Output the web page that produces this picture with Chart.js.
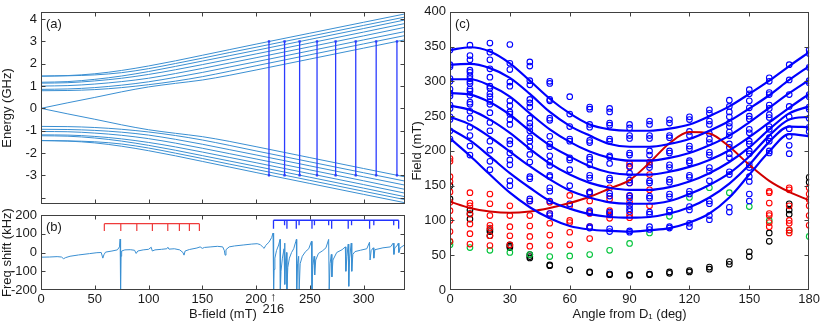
<!DOCTYPE html>
<html>
<head>
<meta charset="utf-8">
<script src="https://cdn.jsdelivr.net/npm/chart.js@4.4.0/dist/chart.umd.min.js"></script>
<style>
  body { margin: 0; background: #fff; }
  #wrap { position: relative; width: 822px; height: 322px; overflow: hidden; }
  canvas { position: absolute; }
</style>
</head>
<body>
<div id="wrap">
  <canvas id="chartA" style="left:0;top:0" width="410" height="216"></canvas>
  <canvas id="chartB" style="left:0;top:195px" width="410" height="127"></canvas>
  <canvas id="chartC" style="left:410px;top:0" width="412" height="322"></canvas>
</div>
<script>
// ---- panel (a): energy levels vs field ----
const energyField = [0, 25, 50, 75, 100, 125, 150, 175, 200, 250, 300, 338];
const upperLevels = [
  [1.45, 1.47, 1.55, 1.70, 1.90, 2.13, 2.38, 2.63, 2.88, 3.37, 3.86, 4.23],
  [1.44, 1.46, 1.50, 1.60, 1.78, 2.01, 2.25, 2.50, 2.74, 3.23, 3.72, 4.09],
  [1.17, 1.20, 1.30, 1.45, 1.65, 1.88, 2.12, 2.36, 2.60, 3.09, 3.58, 3.96],
  [1.13, 1.15, 1.23, 1.35, 1.52, 1.73, 1.96, 2.20, 2.44, 2.93, 3.42, 3.80],
  [1.00, 1.02, 1.09, 1.20, 1.35, 1.56, 1.79, 2.03, 2.27, 2.76, 3.25, 3.63],
  [0.85, 0.87, 0.93, 1.04, 1.19, 1.39, 1.61, 1.85, 2.09, 2.58, 3.07, 3.44],
  [0.79, 0.80, 0.84, 0.93, 1.06, 1.22, 1.42, 1.66, 1.91, 2.40, 2.89, 3.26],
  [0.00, 0.25, 0.49, 0.74, 0.96, 1.12, 1.27, 1.48, 1.72, 2.21, 2.70, 3.07]
];
const lowerLevels = [
  [-1.45, -1.47, -1.55, -1.70, -1.90, -2.13, -2.38, -2.63, -2.88, -3.37, -3.86, -4.23],
  [-1.44, -1.46, -1.50, -1.60, -1.78, -2.01, -2.25, -2.50, -2.74, -3.23, -3.72, -4.09],
  [-1.23, -1.25, -1.33, -1.47, -1.66, -1.88, -2.12, -2.36, -2.60, -3.09, -3.58, -3.96],
  [-1.19, -1.20, -1.26, -1.37, -1.53, -1.73, -1.96, -2.20, -2.44, -2.93, -3.42, -3.80],
  [-1.04, -1.05, -1.11, -1.21, -1.36, -1.56, -1.79, -2.03, -2.27, -2.76, -3.25, -3.63],
  [-0.94, -0.95, -0.99, -1.07, -1.20, -1.39, -1.61, -1.85, -2.09, -2.58, -3.07, -3.44],
  [-0.81, -0.82, -0.86, -0.94, -1.06, -1.22, -1.42, -1.66, -1.91, -2.40, -2.89, -3.26],
  [0.00, -0.25, -0.49, -0.74, -0.96, -1.12, -1.27, -1.48, -1.72, -2.21, -2.70, -3.07]
];
const transitionFields = [212, 226.5, 240.5, 256.7, 274, 292.7, 311.7, 331];
const transitionEnergy = [3, -3];

// ---- panel (b): resonator frequency shift ----
const shiftField = [
  0, 8, 15, 19, 21, 23, 27, 35, 45, 52, 56, 57.5, 58.5, 60, 66, 71, 73, 73.6, 74, 74.4,
  75, 78, 83, 87, 88.5, 90, 95, 100, 102.5, 103.5, 106, 112, 117, 118, 119, 124, 129, 132, 133, 134,
  138, 145, 148, 150, 152, 158, 164, 169, 170.5, 171.2, 172, 175, 180, 188, 196, 201, 204, 206, 207.5, 209,
  212, 214.5, 215.8, 216.3, 216.7, 217.5, 219, 221, 222.3, 222.6, 223.2, 224.5, 226, 226.6, 226.8, 227.5, 228.3, 228.7, 229.5, 231,
  233, 235, 237, 237.5, 237.8, 238.6, 239.6, 240.1, 241, 243, 246, 249, 251.5, 252, 252.8, 254, 254.5, 255.5, 258, 262,
  265, 267.5, 268, 268.8, 270, 270.5, 271.5, 275, 280, 283, 283.5, 284.5, 285.7, 286.2, 287, 288.5, 289, 290, 292, 297,
  303, 305.5, 306, 307, 309, 309.5, 310.5, 318, 325, 327.5, 328.2, 329, 331, 332.3, 332.8, 334, 338
];
const shiftValue = [
  -25, -24, -22, -24, -33, -27, -20, -13, -6, -1, 0, -30, -12, 2, 8, 14, 30, 72, -200, -20,
  8, 14, 15, 12, -5, 8, 14, 17, 28, 8, 14, 17, 20, 28, 18, 20, 14, 0, -14, 8,
  16, 24, 30, 22, 27, 30, 33, 30, 10, -14, 15, 30, 35, 40, 45, 47, 42, 30, 22, 38,
  55, 80, 104, -200, -90, -30, 10, 40, 70, -200, -100, -30, 20, 50, -170, -40, 0, -200, -80, -30,
  0, 20, 60, 70, -200, -60, -20, -200, -60, -20, 5, 20, 60, -200, -70, -20, -120, -40, -5, 10,
  25, 70, -200, -60, -10, -130, -40, 0, 15, 30, -100, -20, 45, -180, -30, 50, -100, -10, 5, 12,
  20, 55, -40, 10, 25, -30, 15, 25, 30, 50, -10, 25, 35, 50, 0, 25, 40
];
const redCombFields = [58.9, 74.2, 89.1, 103.6, 117.9, 128.7, 138, 147.3];
const redCombLevels = [154, 115];
const blueCombLong = [216.2, 228.7, 237.4, 252, 270.3, 285.7, 305.6, 332.6];
const blueCombShort = [226.5, 240, 254.3, 267.5, 288.8, 309.5, 328];
const blueCombLevels = [172, 127, 145];
const markedField = 216;

// ---- panel (c): resonance field vs angle ----
const fitAngles = [0, 10, 20, 30, 40, 50, 60, 70, 80, 90, 100, 110, 120, 130, 140, 150, 160, 170, 180];
const blueFits = [
  [345, 349, 343, 326, 301, 275, 254, 238, 231, 229, 229, 232, 238, 250, 264, 282, 301, 322, 342],
  [324, 325, 319, 305, 282, 256, 236, 222, 210, 206, 206, 210, 217, 229, 243, 261, 280, 302, 322],
  [303, 303, 294, 278, 254, 231, 213, 199, 190, 186, 186, 190, 197, 208, 222, 241, 262, 283, 302],
  [283, 281, 270, 252, 229, 208, 192, 178, 169, 166, 166, 170, 177, 187, 201, 220, 241, 262, 282],
  [265, 259, 245, 226, 203, 182, 166, 154, 147, 144, 144, 148, 156, 168, 184, 205, 231, 254, 264],
  [249, 238, 220, 199, 178, 159, 143, 133, 126, 124, 124, 128, 138, 151, 168, 192, 222, 245, 249],
  [232, 215, 192, 168, 147, 128, 117, 109, 105, 104, 105, 110, 119, 133, 153, 180, 213, 235, 234],
  [218, 193, 166, 140, 119, 103, 92, 87, 85, 84, 86, 89, 97, 110, 133, 166, 199, 224, 221]
];
const redFit = [127, 118, 113, 111, 113, 118, 125, 134, 146, 158, 183, 211, 227, 225, 206, 180, 157, 141, 129];

const scanAngles = [0, 10, 20, 30, 40, 50, 60, 70, 80, 90, 100, 110, 120, 130, 140, 150, 160, 170, 180];
const blueFields = [
  [345, 324, 321, 304, 300, 289, 283, 279, 266, 261, 249, 245, 229, 217],
  [352, 337, 331, 316, 313, 308, 304, 300, 297, 289, 286, 280, 270, 267, 257, 247, 234, 222, 207, 194],
  [355, 342, 331, 318, 306, 293, 290, 282, 278, 271, 267, 255, 241, 229, 214, 201, 185, 173],
  [353, 326, 317, 299, 293, 272, 265, 256, 253, 245, 238, 215, 210, 197, 187, 180, 157, 150],
  [328, 322, 301, 295, 274, 269, 263, 247, 240, 235, 229, 219, 214, 206, 195, 184, 163, 160, 131, 128],
  [300, 297, 274, 272, 247, 244, 221, 210, 206, 193, 184, 179, 165, 163, 147, 142, 128, 110, 107],
  [278, 253, 235, 217, 214, 190, 187, 173, 150, 124],
  [263, 260, 238, 234, 215, 212, 191, 188, 180, 165, 161, 141, 139, 114, 111, 91, 89],
  [261, 256, 240, 237, 217, 214, 193, 191, 182, 161, 158, 139, 135, 112, 110, 88, 84],
  [238, 233, 222, 218, 197, 194, 178, 168, 158, 154, 136, 132, 122, 117, 113, 85, 83],
  [243, 238, 222, 218, 200, 194, 180, 176, 157, 154, 135, 132, 112, 109, 91, 87],
  [245, 240, 222, 219, 200, 197, 180, 176, 159, 155, 138, 134, 115, 112, 91, 89],
  [249, 245, 228, 222, 207, 203, 186, 183, 165, 162, 142, 138, 120, 115, 96, 91],
  [259, 254, 243, 238, 225, 217, 212, 198, 194, 176, 171, 157, 128, 124, 107, 101],
  [273, 264, 256, 249, 240, 235, 227, 222, 210, 205, 196, 190, 170, 166, 119, 112],
  [288, 282, 272, 262, 250, 246, 231, 226, 214, 210, 200, 196, 180, 176, 163, 156, 138, 128],
  [305, 300, 284, 281, 266, 261, 252, 248, 235, 231, 219, 214, 200, 197],
  [324, 302, 281, 264, 249, 232, 221, 208, 196],
  [345, 340, 320, 301, 298, 281, 278, 263, 260, 247, 234, 228]
];
const redFields = [
  [189, 185, 163, 156, 141, 126, 114, 100, 84, 70],
  [140, 125, 121, 109, 95, 81, 66],
  [138, 124, 107, 93, 89, 78, 64],
  [121, 107, 91, 78, 65],
  [128, 107, 92, 77, 63],
  [126, 110, 96, 79, 64],
  [136, 121, 100, 97, 83, 65],
  [141, 128, 112, 110, 91, 74],
  [147, 131, 114, 108, 103],
  [182, 177, 154, 135, 126, 108, 104],
  [184, 166, 144, 121],
  [], [], [], [], [],
  [142, 140, 125, 110, 107, 97, 91],
  [147, 144, 121, 100, 96, 86, 82],
  [147, 138, 130, 121, 107, 93]
];
const greenFields = [
  [69, 65], [61], [57], [54], [51], [48], [49], [51], [57], [67],
  [82], [106], [133], [147], [140], [120], [100], [86], [77]
];
const blackFields = [
  [150, 131], [115, 110, 102], [87, 84, 78], [65, 63, 61], [51, 48, 46], [36, 35], [29], [26, 25], [23, 22], [22, 21],
  [23, 22], [26, 24], [28, 26], [33, 30], [41, 37], [55, 48], [82, 70], [124, 115, 109], [162, 155]
];

const FONT = "'Liberation Sans', Arial, Helvetica, sans-serif";
Chart.defaults.font.family = FONT;
Chart.defaults.font.size = 13;
Chart.defaults.color = '#1a1a1a';

const levelColor = '#3a8fd2';

// frame with inward ticks on all four sides, plus the panel tag
const boxPlugin = {
  id: 'box',
  afterDraw(chart, args, opts) {
    const { ctx, chartArea: a } = chart;
    const xs = chart.scales.x, ys = chart.scales.y;
    const L = Math.round(a.left) + 0.5, R = Math.round(a.right) - 0.5;
    const T = Math.round(a.top) + 0.5, B = Math.round(a.bottom) - 0.5;
    ctx.save();
    ctx.strokeStyle = '#404040';
    ctx.lineWidth = 1;
    ctx.strokeRect(L, T, R - L, B - T);
    ctx.beginPath();
    xs.ticks.forEach(t => {
      const p = Math.round(xs.getPixelForValue(t.value)) + 0.5;
      if (p <= L + 1 || p >= R - 1) return;
      ctx.moveTo(p, B); ctx.lineTo(p, B - 4);
      ctx.moveTo(p, T); ctx.lineTo(p, T + 4);
    });
    ys.ticks.forEach(t => {
      const p = Math.round(ys.getPixelForValue(t.value)) + 0.5;
      if (p <= T + 1 || p >= B - 1) return;
      ctx.moveTo(L, p); ctx.lineTo(L + 4, p);
      ctx.moveTo(R, p); ctx.lineTo(R - 4, p);
    });
    ctx.stroke();
    ctx.fillStyle = '#1a1a1a';
    ctx.font = '13px ' + FONT;
    ctx.textBaseline = 'top';
    ctx.fillText(opts.tag, a.left + 5, a.top + 6);
    if (opts.mark !== undefined) {
      const x = xs.getPixelForValue(opts.mark);
      ctx.textAlign = 'center';
      ctx.fillText('\u2191', x, a.bottom + 1);
      ctx.fillText(String(opts.mark), x, a.bottom + 13);
    }
    ctx.restore();
  }
};

function lineSet(xs, ys, color, width) {
  return {
    data: xs.map((x, i) => ({ x, y: ys[i] })),
    borderColor: color, borderWidth: width, pointRadius: 0,
    cubicInterpolationMode: 'monotone', fill: false
  };
}

function pointSet(lists, color) {
  const data = [];
  scanAngles.forEach((ang, i) => lists[i].forEach(v => data.push({ x: ang, y: v })));
  return {
    data, showLine: false, pointRadius: 2.8, pointBorderWidth: 1.1,
    pointBorderColor: color, pointBackgroundColor: 'rgba(0,0,0,0)', borderColor: color
  };
}

function yScale(min, max, step, title, width, cb) {
  return {
    type: 'linear', min, max,
    ticks: { stepSize: step, padding: 4, includeBounds: false, autoSkip: false, callback: cb || (v => v) },
    grid: { display: false, drawTicks: false },
    border: { display: false },
    title: { display: true, text: title, padding: { top: 0, bottom: 0 } },
    afterFit: s => { s.width = width; }
  };
}

function xScale(min, max, step, title, height) {
  return {
    type: 'linear', min, max,
    ticks: { stepSize: step, padding: 2, includeBounds: false, autoSkip: false, maxRotation: 0, display: !!title },
    grid: { display: false, drawTicks: false },
    border: { display: false },
    title: { display: !!title, text: title, padding: { top: 0, bottom: 0 } },
    afterFit: s => { s.height = height; }
  };
}

const baseOptions = {
  responsive: false,
  animation: false,
  plugins: { legend: { display: false }, tooltip: { enabled: false } }
};

// panel (a)
const aSets = [];
upperLevels.concat(lowerLevels).forEach(lv => aSets.push(lineSet(energyField, lv, levelColor, 1)));
const transData = [];
transitionFields.forEach(b => {
  transData.push({ x: b, y: transitionEnergy[0] }, { x: b, y: transitionEnergy[1] }, { x: b, y: null });
});
aSets.unshift({
  data: transData, borderColor: '#2b3cff', borderWidth: 1.3, spanGaps: false,
  pointRadius: 1.3, pointStyle: 'rect', pointBackgroundColor: '#2b3cff', pointBorderColor: '#2b3cff', pointBorderWidth: 0.5
});
new Chart(document.getElementById('chartA'), {
  type: 'line',
  data: { datasets: aSets },
  options: {
    ...baseOptions,
    layout: { padding: { top: 2, right: 5, bottom: 1, left: 0 } },
    scales: {
      x: xScale(0, 338.5, 50, '', 0),
      y: yScale(-4.3, 4.33, 1, 'Energy (GHz)', 41, v => (v === -4 ? '' : v))
    },
    plugins: { ...baseOptions.plugins, box: { tag: '(a)' } }
  },
  plugins: [boxPlugin]
});

// panel (b)
const redComb = [];
redCombFields.forEach(b => redComb.push({ x: b, y: redCombLevels[0] }));
const redTeeth = [];
redCombFields.forEach(b => redTeeth.push({ x: b, y: redCombLevels[0] }, { x: b, y: redCombLevels[1] }, { x: b, y: null }));
const blueBar = [
  { x: blueCombLong[0], y: blueCombLevels[0] },
  { x: blueCombLong[blueCombLong.length - 1], y: blueCombLevels[0] }
];
const blueTeeth = [];
blueCombLong.forEach(b => blueTeeth.push({ x: b, y: blueCombLevels[0] }, { x: b, y: blueCombLevels[1] }, { x: b, y: null }));
blueCombShort.forEach(b => blueTeeth.push({ x: b, y: blueCombLevels[0] }, { x: b, y: blueCombLevels[2] }, { x: b, y: null }));
const combStyle = { pointRadius: 0, spanGaps: false, tension: 0 };
new Chart(document.getElementById('chartB'), {
  type: 'line',
  data: {
    datasets: [
      { data: redComb, borderColor: '#ee3b3b', borderWidth: 1.2, ...combStyle },
      { data: redTeeth, borderColor: '#ee3b3b', borderWidth: 1.2, ...combStyle },
      { data: blueBar, borderColor: '#2233ff', borderWidth: 1.6, ...combStyle },
      { data: blueTeeth, borderColor: '#2233ff', borderWidth: 1.3, ...combStyle },
      {
        data: shiftField.map((b, i) => ({ x: b, y: shiftValue[i] })),
        borderColor: levelColor, borderWidth: 1, pointRadius: 0, tension: 0
      }
    ]
  },
  options: {
    ...baseOptions,
    layout: { padding: { top: 20, right: 5, bottom: 0, left: 0 } },
    scales: {
      x: xScale(0, 338.5, 50, 'B-field (mT)', 32),
      y: yScale(-200, 200, 100, 'Freq shift (kHz)', 41)
    },
    plugins: { ...baseOptions.plugins, box: { tag: '(b)', mark: markedField } }
  },
  plugins: [boxPlugin]
});

// panel (c)
const cSets = [];
blueFits.forEach(f => cSets.push(lineSet(fitAngles, f, '#0000ff', 2.2)));
cSets.push(lineSet(fitAngles, redFit, '#d00000', 2));
cSets.push(pointSet(blueFields, '#0000ff'));
cSets.push(pointSet(redFields, '#ff0000'));
cSets.push(pointSet(greenFields, '#00c43a'));
cSets.push(pointSet(blackFields, '#000000'));
new Chart(document.getElementById('chartC'), {
  type: 'line',
  data: { datasets: cSets },
  options: {
    ...baseOptions,
    layout: { padding: { top: 4, right: 10, bottom: 0, left: 0 } },
    scales: {
      x: xScale(0, 180, 30, 'Angle from D\u2081 (deg)', 32),
      y: yScale(0, 400, 50, 'Field (mT)', 40)
    },
    plugins: { ...baseOptions.plugins, box: { tag: '(c)' } }
  },
  plugins: [boxPlugin]
});
</script>
</body>
</html>
